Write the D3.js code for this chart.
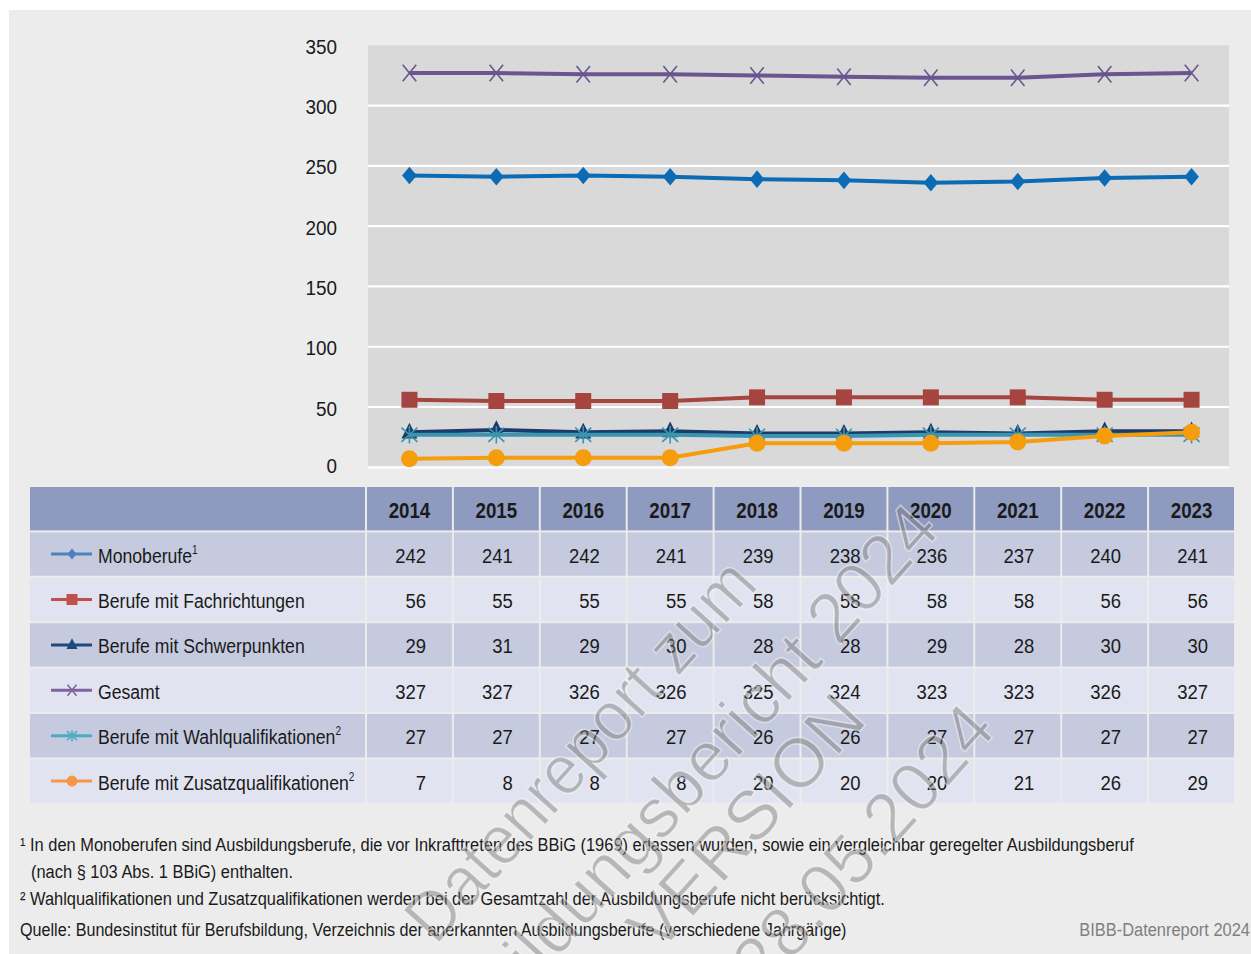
<!DOCTYPE html>
<html><head><meta charset="utf-8">
<script src="https://cdn.jsdelivr.net/npm/d3@7"></script>
<style>
body{margin:0;background:#fff}
svg{display:block}
text{font-family:"Liberation Sans",Arial,sans-serif;fill:#1a1a1a}
</style></head>
<body><svg id="c" width="1251" height="954"></svg>
<script>
// ---------- data ----------
const years = [2014,2015,2016,2017,2018,2019,2020,2021,2022,2023];
const monoberufe   = [242,241,242,241,239,238,236,237,240,241];
const fachrichtung = [56,55,55,55,58,58,58,58,56,56];
const schwerpunkt  = [29,31,29,30,28,28,29,28,30,30];
const gesamt       = [327,327,326,326,325,324,323,323,326,327];
const wahlqual     = [27,27,27,27,26,26,27,27,27,27];
const zusatzqual   = [7,8,8,8,20,20,20,21,26,29];
const seriesLabels = ["Monoberufe","Berufe mit Fachrichtungen","Berufe mit Schwerpunkten","Gesamt","Berufe mit Wahlqualifikationen","Berufe mit Zusatzqualifikationen"];
const seriesSup    = ["1","","","","2","2"];
const yTicks = [0,50,100,150,200,250,300,350];
const footnotes = [
  "¹ In den Monoberufen sind Ausbildungsberufe, die vor Inkrafttreten des BBiG (1969) erlassen wurden, sowie ein vergleichbar geregelter Ausbildungsberuf",
  "(nach § 103 Abs. 1 BBiG) enthalten.",
  "² Wahlqualifikationen und Zusatzqualifikationen werden bei der Gesamtzahl der Ausbildungsberufe nicht berücksichtigt."
];
const sourceText = "Quelle: Bundesinstitut für Berufsbildung, Verzeichnis der anerkannten Ausbildungsberufe (verschiedene Jahrgänge)";
const brandText = "BIBB-Datenreport 2024";
const watermark = ["Datenreport zum","Bildungsbericht 2024","VERSION","28.05.2024"];

const seriesValues = [monoberufe,fachrichtung,schwerpunkt,gesamt,wahlqual,zusatzqual];
const lineColors   = ["#0b6bb5","#a6453f","#1c3a6a","#6a5590","#3a95b1","#f59d0c"];
const legendColors = ["#4f81bd","#c0504d","#1f497d","#8064a2","#4bacc6","#f79646"];
const markerTypes  = ["diamond","square","triangle","x","asterisk","circle"];

// ---------- layout ----------
const K = 0.84; // horizontal condensing of label text
const svg = d3.select("#c");
svg.append("rect").attr("x",9).attr("y",10).attr("width",1242).attr("height",944).attr("fill","#ececec");

const x = d3.scaleBand().domain(years).range([366,1235]);
const y = d3.scaleLinear().domain([0,350]).range([467.3,45.3]);
const plotL = 368, plotR = 1229;

svg.append("rect").attr("x",plotL).attr("y",y(350)).attr("width",plotR-plotL).attr("height",y(0)-y(350)).attr("fill","#d9d9d9");
svg.append("g").selectAll("line").data(yTicks.filter(d=>d<350)).join("line")
  .attr("x1",plotL).attr("x2",plotR).attr("y1",d=>y(d)).attr("y2",d=>y(d))
  .attr("stroke","#fff").attr("stroke-width",2.2);
svg.append("g").selectAll("text").data(yTicks).join("text")
  .attr("transform",d=>`translate(337,${y(d)+(d===0?-2:1)}) scale(0.9,1)`).attr("dy","0.36em").attr("text-anchor","end")
  .attr("font-size",21).text(d=>d);

function markerPath(type, s){
  switch(type){
    case "diamond": return `M0,${-s*0.55}L${s*0.46},0L0,${s*0.55}L${-s*0.46},0Z`;
    case "square": return `M${-s/2},${-s/2}h${s}v${s}h${-s}Z`;
    case "triangle": return `M0,${-s*0.6}L${s*0.5},${s*0.38}L${-s*0.5},${s*0.38}Z`;
    case "x": return `M${-s*0.45},${-s*0.55}L${s*0.45},${s*0.55}M${s*0.45},${-s*0.55}L${-s*0.45},${s*0.55}`;
    case "asterisk": return `M${-s*0.5},${-s*0.45}L${s*0.5},${s*0.45}M${s*0.5},${-s*0.45}L${-s*0.5},${s*0.45}M0,${-s*0.55}L0,${s*0.55}`;
  }
}
function drawMarkers(g, type, pts, size, color){
  if(type==="circle"){
    g.selectAll("circle").data(pts).join("circle").attr("cx",d=>d[0]).attr("cy",d=>d[1]).attr("r",size/2).attr("fill",color);
  } else {
    const stroked = (type==="x"||type==="asterisk");
    g.selectAll("path.m").data(pts).join("path").attr("class","m")
      .attr("transform",d=>`translate(${d[0]},${d[1]})`)
      .attr("d",markerPath(type,size))
      .attr("fill",stroked?"none":color).attr("stroke",stroked?color:"none").attr("stroke-width",stroked?1.6:0);
  }
}

const line = d3.line();
seriesValues.forEach((vals,i)=>{
  const pts = years.map((yr,j)=>[x(yr)+x.bandwidth()/2, y(vals[j])]);
  const g = svg.append("g");
  g.append("path").attr("d",line(pts)).attr("fill","none").attr("stroke",lineColors[i]).attr("stroke-width",4).attr("stroke-linejoin","round");
  const sizes = {diamond:16,square:16,triangle:16,x:15,asterisk:16,circle:17};
  drawMarkers(g, markerTypes[i], pts, sizes[markerTypes[i]], lineColors[i]);
});

// ---------- table ----------
const tblTop = 487, pitch = 45.4, cellH = 43.4, firstL = 30, firstR = 365;
const tbl = svg.append("g");
tbl.append("rect").attr("x",firstL).attr("y",tblTop).attr("width",firstR-firstL).attr("height",cellH).attr("fill","#8e9abf");
tbl.selectAll("rect.hd").data(years).join("rect").attr("class","hd")
  .attr("x",d=>x(d)+1).attr("y",tblTop).attr("width",x.bandwidth()-2).attr("height",cellH).attr("fill","#8e9abf");
tbl.selectAll("text.hd").data(years).join("text").attr("class","hd")
  .attr("transform",d=>`translate(${x(d)+x.bandwidth()/2},${tblTop+cellH/2+9.5}) scale(0.87,1)`).attr("text-anchor","middle")
  .attr("font-size",21.5).attr("font-weight","bold").text(d=>d);

seriesLabels.forEach((lab,i)=>{
  const top = tblTop + pitch*(i+1);
  const fill = i%2===0 ? "#c5cadf" : "#e1e4f0";
  const row = tbl.append("g");
  row.append("rect").attr("x",firstL).attr("y",top).attr("width",firstR-firstL).attr("height",cellH).attr("fill",fill);
  row.selectAll("rect.c").data(years).join("rect").attr("class","c")
    .attr("x",d=>x(d)+1).attr("y",top).attr("width",x.bandwidth()-2).attr("height",cellH).attr("fill",fill);
  const cy = top + cellH/2;
  row.append("line").attr("x1",51).attr("x2",92).attr("y1",cy).attr("y2",cy).attr("stroke",legendColors[i]).attr("stroke-width",3);
  const ls = {diamond:10,square:11,triangle:11,x:10,asterisk:10,circle:11};
  drawMarkers(row.append("g"), markerTypes[i], [[72,cy]], ls[markerTypes[i]], legendColors[i]);
  const t = row.append("text").attr("transform",`translate(98,${cy+8.5}) scale(${K},1)`).attr("font-size",21).text(lab);
  if(seriesSup[i]) t.append("tspan").attr("font-size",12).attr("dy",-9).text(seriesSup[i]);
  row.selectAll("text.v").data(years).join("text").attr("class","v")
    .attr("transform",d=>`translate(${x(d)+x.bandwidth()/2+16.5},${cy+8.5}) scale(0.88,1)`).attr("text-anchor","end")
    .attr("font-size",21).text((d,j)=>seriesValues[i][j]);
});

// ---------- footnotes ----------
const fn = svg.append("g");
const FK = 0.865, FS = 19;
fn.append("text").attr("transform",`translate(20,851) scale(${FK},1)`).attr("font-size",FS).text(footnotes[0]);
fn.append("text").attr("transform",`translate(31,878) scale(${FK},1)`).attr("font-size",FS).text(footnotes[1]);
fn.append("text").attr("transform",`translate(20,905) scale(${FK},1)`).attr("font-size",FS).text(footnotes[2]);
fn.append("text").attr("transform",`translate(20,936) scale(0.85,1)`).attr("font-size",FS).text(sourceText);
fn.append("text").attr("transform",`translate(1250,936) scale(${FK},1)`).attr("text-anchor","end").attr("font-size",FS).style("fill","#7f7f7f").text(brandText);

// ---------- watermark ----------
const wmEnds = [[760,586],[942,531],[869,721],[998,731]];
const wmScale = [0.93,1,1,1];
const wm = svg.append("g").attr("pointer-events","none");
watermark.forEach((w,i)=>{
  wm.append("text").attr("transform",`translate(${wmEnds[i][0]},${wmEnds[i][1]}) rotate(-48) scale(${wmScale[i]},1)`)
    .attr("text-anchor","end").attr("font-size",70)
    .style("fill","#767676").style("fill-opacity",0.45)
    .style("stroke","#ffffff").style("stroke-opacity",0.5).style("stroke-width",1.5)
    .text(w);
});
</script></body></html>
